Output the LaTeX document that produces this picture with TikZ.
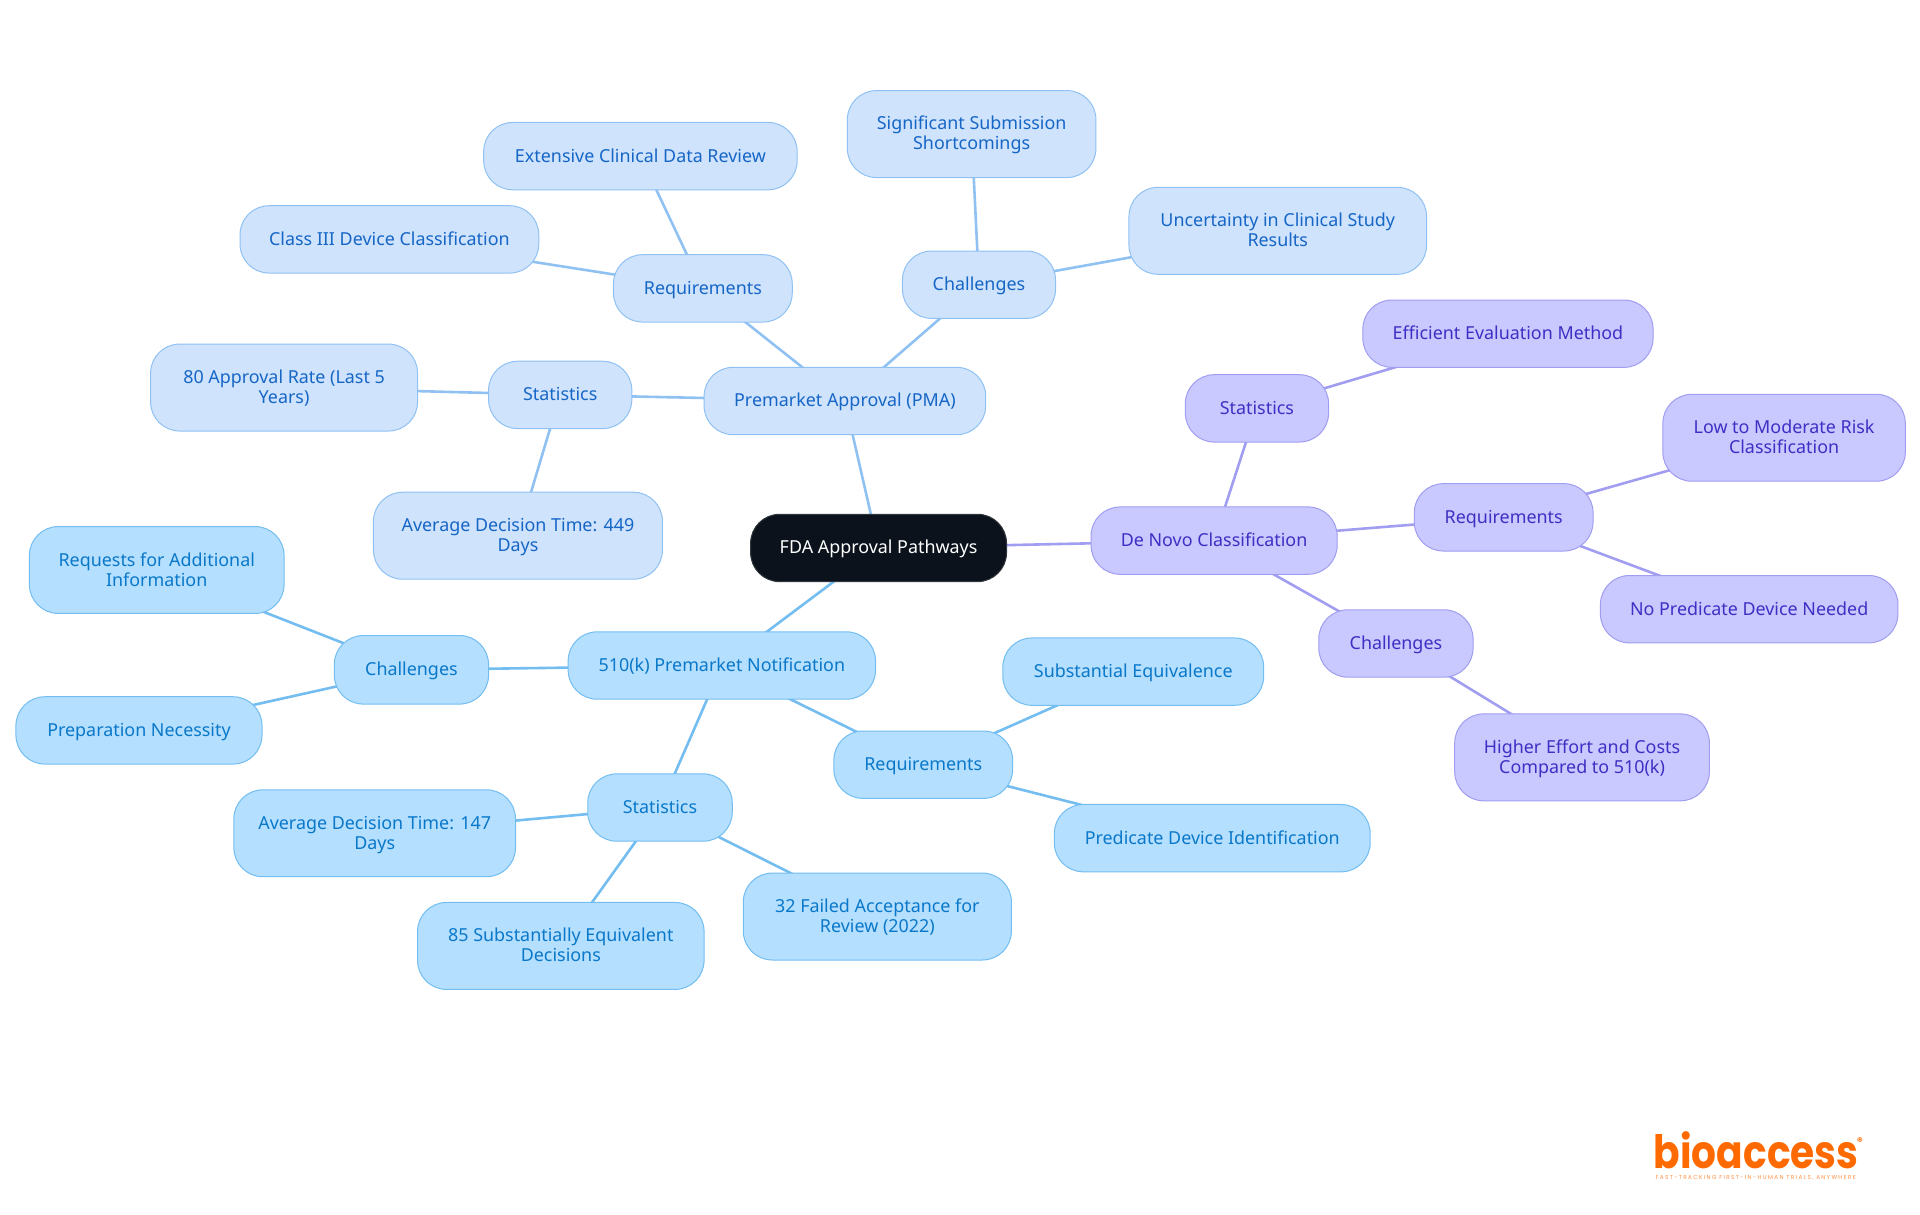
\documentclass[tikz,border=0pt]{standalone}
\usepackage{fontspec}
\setmainfont{Noto Sans}
\newfontfamily\logofont{Poppins}
\newfontfamily\tagfont[LetterSpace=24]{Poppins}
\usetikzlibrary{backgrounds}
\definecolor{darkfill}{HTML}{0B121B}
\definecolor{pmafill}{HTML}{CFE3FD}
\definecolor{pmaline}{HTML}{90C1F3}
\definecolor{pmatext}{HTML}{1666C6}
\definecolor{kfill}{HTML}{B4DFFF}
\definecolor{kline}{HTML}{73BDF1}
\definecolor{ktext}{HTML}{0A78C9}
\definecolor{dnfill}{HTML}{C9C9FF}
\definecolor{dnline}{HTML}{A19DF0}
\definecolor{dntext}{HTML}{3F2FC4}
\definecolor{logoorange}{HTML}{FF6A00}
\tikzset{
  x=1.2245pt,y=-1.2245pt,
  mapnode/.style={draw,rectangle,rounded corners=29pt,align=center,inner sep=0pt,outer sep=0pt,line width=1pt,
    font=\fontsize{17.9}{20}\selectfont},
  rootnode/.style={mapnode,fill=darkfill,draw=darkfill!85!white,text=white},
  pmanode/.style={mapnode,fill=pmafill,draw=pmaline,text=pmatext},
  knode/.style={mapnode,fill=kfill,draw=kline,text=ktext},
  dnnode/.style={mapnode,fill=dnfill,draw=dnline,text=dntext},
  pmaedge/.style={draw=pmaline,line width=2.6pt},
  kedge/.style={draw=kline,line width=2.6pt},
  dnedge/.style={draw=dnline,line width=2.6pt},
}
% name, x1, x2, y1, y2, style, text (in reference coordinates)
\newcommand{\mapbox}[7]{%
  \pgfmathsetmacro{\mcx}{(#2+#3)/2}\pgfmathsetmacro{\mcy}{(#4+#5)/2}%
  \pgfmathsetmacro{\mw}{(#3-#2)*1.2245}\pgfmathsetmacro{\mh}{(#5-#4)*1.2245}%
  \node[#6,minimum width=\mw pt,minimum height=\mh pt] (#1) at (\mcx,\mcy)
    {\vrule width 0pt height 16pt depth 0pt #7\vrule width 0pt height 0pt depth 4pt};}
\begin{document}
\begin{tikzpicture}
\useasboundingbox (0,0) rectangle (1568,992.2);
\mapbox{root}{613}{822}{420}{475}{rootnode}{FDA Approval Pathways}
\mapbox{pma}{575}{805}{300}{355}{pmanode}{Premarket Approval (PMA)}
\mapbox{pmareq}{501}{647}{208}{263}{pmanode}{Requirements}
\mapbox{pmaclass}{196}{440}{168}{223}{pmanode}{Class III Device Classification}
\mapbox{pmaclin}{395}{651}{100}{155}{pmanode}{Extensive Clinical Data Review}
\mapbox{pmachal}{737}{862}{205}{260}{pmanode}{Challenges}
\mapbox{pmasig}{692}{895}{74}{145}{pmanode}{Significant Submission\\Shortcomings}
\mapbox{pmaunc}{922}{1165}{153}{224}{pmanode}{Uncertainty in Clinical Study\\Results}
\mapbox{pmastat}{399}{516}{295}{350}{pmanode}{Statistics}
\mapbox{pmaeighty}{123}{341}{281}{352}{pmanode}{80 Approval Rate (Last 5\\Years)}
\mapbox{pmaavg}{305}{541}{402}{473}{pmanode}{Average Decision Time: 449\\Days}
\mapbox{dn}{891}{1092}{414}{469}{dnnode}{De Novo Classification}
\mapbox{dnstat}{968}{1085}{306}{361}{dnnode}{Statistics}
\mapbox{dneff}{1113}{1350}{245}{300}{dnnode}{Efficient Evaluation Method}
\mapbox{dnreq}{1155}{1301}{395}{450}{dnnode}{Requirements}
\mapbox{dnlow}{1358}{1556}{322}{393}{dnnode}{Low to Moderate Risk\\Classification}
\mapbox{dnno}{1307}{1550}{470}{525}{dnnode}{No Predicate Device Needed}
\mapbox{dnchal}{1077}{1203}{498}{553}{dnnode}{Challenges}
\mapbox{dnhigh}{1188}{1396}{583}{654}{dnnode}{Higher Effort and Costs\\Compared to 510(k)}
\mapbox{k}{464}{715}{516}{571}{knode}{510(k) Premarket Notification}
\mapbox{kchal}{273}{399}{519}{575}{knode}{Challenges}
\mapbox{kreqs}{24}{232}{430}{501}{knode}{Requests for Additional\\Information}
\mapbox{kprep}{13}{214}{569}{624}{knode}{Preparation Necessity}
\mapbox{kreq}{681}{827}{597}{652}{knode}{Requirements}
\mapbox{ksub}{819}{1032}{521}{576}{knode}{Substantial Equivalence}
\mapbox{kpred}{861}{1119}{657}{712}{knode}{Predicate Device Identification}
\mapbox{kstat}{480}{598}{632}{687}{knode}{Statistics}
\mapbox{kavg}{191}{421}{645}{716}{knode}{Average Decision Time: 147\\Days}
\mapbox{keighty}{341}{575}{737}{808}{knode}{85 Substantially Equivalent\\Decisions}
\mapbox{kfail}{607}{826}{713}{784}{knode}{32 Failed Acceptance for\\Review (2022)}
\begin{scope}[on background layer]
\draw[pmaedge] (root.center) -- (pma.center);
\draw[pmaedge] (pma.center) -- (pmareq.center);
\draw[pmaedge] (pma.center) -- (pmachal.center);
\draw[pmaedge] (pma.center) -- (pmastat.center);
\draw[pmaedge] (pmareq.center) -- (pmaclass.center);
\draw[pmaedge] (pmareq.center) -- (pmaclin.center);
\draw[pmaedge] (pmachal.center) -- (pmasig.center);
\draw[pmaedge] (pmachal.center) -- (pmaunc.center);
\draw[pmaedge] (pmastat.center) -- (pmaeighty.center);
\draw[pmaedge] (pmastat.center) -- (pmaavg.center);
\draw[dnedge] (root.center) -- (dn.center);
\draw[dnedge] (dn.center) -- (dnstat.center);
\draw[dnedge] (dn.center) -- (dnreq.center);
\draw[dnedge] (dn.center) -- (dnchal.center);
\draw[dnedge] (dnstat.center) -- (dneff.center);
\draw[dnedge] (dnreq.center) -- (dnlow.center);
\draw[dnedge] (dnreq.center) -- (dnno.center);
\draw[dnedge] (dnchal.center) -- (dnhigh.center);
\draw[kedge] (root.center) -- (k.center);
\draw[kedge] (k.center) -- (kchal.center);
\draw[kedge] (k.center) -- (kreq.center);
\draw[kedge] (k.center) -- (kstat.center);
\draw[kedge] (kchal.center) -- (kreqs.center);
\draw[kedge] (kchal.center) -- (kprep.center);
\draw[kedge] (kreq.center) -- (ksub.center);
\draw[kedge] (kreq.center) -- (kpred.center);
\draw[kedge] (kstat.center) -- (kavg.center);
\draw[kedge] (kstat.center) -- (keighty.center);
\draw[kedge] (kstat.center) -- (kfail.center);
\end{scope}
\node[anchor=base west,inner sep=0pt,text=logoorange,font=\logofont\bfseries\fontsize{46}{46}\selectfont] (logo) at (1350.5,953.9) {\scalebox{0.85}[1]{bioaccess}};
\node[anchor=center,inner sep=0pt,text=logoorange,font=\logofont\bfseries\fontsize{11}{11}\selectfont] (logoreg) at (1519,932) {®};
\node[anchor=base west,inner sep=0pt,text=logoorange!75,font=\tagfont\fontsize{5.7}{6}\selectfont] (logotag) at (1352,963) {FAST-TRACKING FIRST-IN-HUMAN TRIALS, ANYWHERE};
\end{tikzpicture}
\end{document}
